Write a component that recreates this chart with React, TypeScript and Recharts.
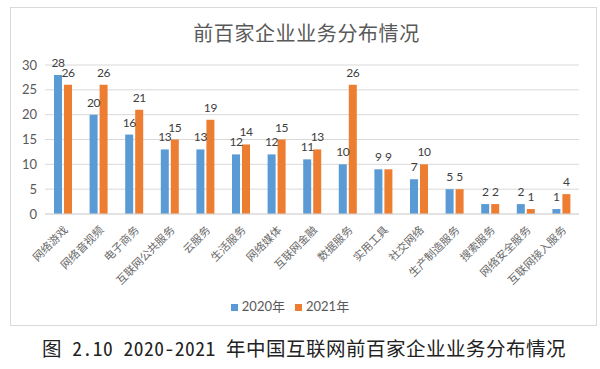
import React from "react";
import { BarChart, Bar, XAxis, YAxis, CartesianGrid, Legend, LabelList } from "recharts";

const categories = [
  "网络游戏", "网络音视频", "电子商务", "互联网公共服务", "云服务", "生活服务", "网络媒体",
  "互联网金融", "数据服务", "实用工具", "社交网络", "生产制造服务", "搜索服务", "网络安全服务", "互联网接入服务",
];
const values2020 = [28, 20, 16, 13, 13, 12, 12, 11, 10, 9, 7, 5, 2, 2, 1];
const values2021 = [26, 26, 21, 15, 19, 14, 15, 13, 26, 9, 10, 5, 2, 1, 4];
const yTicks = [0, 5, 10, 15, 20, 25, 30];
const titleText = "前百家企业业务分布情况";
const captionText = "图 2.10 2020-2021 年中国互联网前百家企业业务分布情况";

const data = categories.map((name, i) => ({ name, y2020: values2020[i], y2021: values2021[i] }));

const CJK = '"Noto Sans CJK SC", sans-serif';
const NUM = 'Lato, "Noto Sans CJK SC", sans-serif';

const XTick = (props: any) => {
  const { x, y, payload } = props;
  return (
    <g transform={`translate(${x + 3},${y + 6})`}>
      <text
        x={0}
        y={0}
        dy={4}
        textAnchor="end"
        transform="rotate(-45)"
        fill="#6a6a6a"
        fontSize={11}
        fontFamily={CJK}
      >
        {payload.value}
      </text>
    </g>
  );
};

export default function App() {
  return (
    <div style={{ position: "absolute", left: 0, top: 0, width: 600, height: 369, background: "#fff" }}>
      <div
        style={{
          position: "absolute",
          left: 10,
          top: 7,
          width: 585,
          height: 317,
          border: "1px solid #d9d9d9",
        }}
      >
        <div
          style={{
            position: "absolute",
            left: 0,
            top: 12,
            width: 585,
            textAlign: "center",
            fontFamily: CJK,
            fontSize: 20,
            letterSpacing: 0.6,
            color: "#595959",
            paddingLeft: 6,
            boxSizing: "border-box",
            lineHeight: "26px",
          }}
        >
          {titleText}
        </div>
        <BarChart
          width={585}
          height={317}
          data={data}
          margin={{ top: 57, right: 17, left: 0, bottom: 10 }}
          barCategoryGap="25%"
          barGap={2}
        >
          <CartesianGrid vertical={false} stroke="#d9d9d9" />
          <XAxis
            dataKey="name"
            interval={0}
            height={82}
            tick={<XTick />}
            tickLine={false}
            axisLine={{ stroke: "#d9d9d9" }}
          />
          <YAxis
            width={34}
            domain={[0, 30]}
            ticks={yTicks}
            tickLine={false}
            axisLine={false}
            tick={{ fill: "#595959", fontSize: 13, fontFamily: NUM }}
          />
          <Legend
            iconType="square"
            iconSize={7}
            wrapperStyle={{ fontSize: 13, fontFamily: NUM, color: "#595959" }}
            formatter={(v: string) => <span style={{ color: "#595959" }}>{v}</span>}
          />
          <Bar dataKey="y2020" name="2020年" fill="#5B9BD5" barSize={8} isAnimationActive={false}>
            <LabelList dataKey="y2020" position="top" offset={8} fill="#404040" fontSize={12} letterSpacing={-0.4} fontFamily={NUM} />
          </Bar>
          <Bar dataKey="y2021" name="2021年" fill="#ED7D31" barSize={8} isAnimationActive={false}>
            <LabelList dataKey="y2021" position="top" offset={8} fill="#404040" fontSize={12} letterSpacing={-0.4} fontFamily={NUM} />
          </Bar>
        </BarChart>
      </div>
      <div
        style={{
          position: "absolute",
          left: 0,
          top: 336,
          width: 600,
          textAlign: "center",
          fontFamily: '"Noto Sans Mono CJK SC", "Noto Sans CJK SC", monospace',
          fontSize: 19.5,
          letterSpacing: 0.5,
          color: "#222",
          lineHeight: "24px",
          paddingLeft: 8,
          boxSizing: "border-box",
          whiteSpace: "nowrap",
        }}
      >
        {captionText}
      </div>
    </div>
  );
}
